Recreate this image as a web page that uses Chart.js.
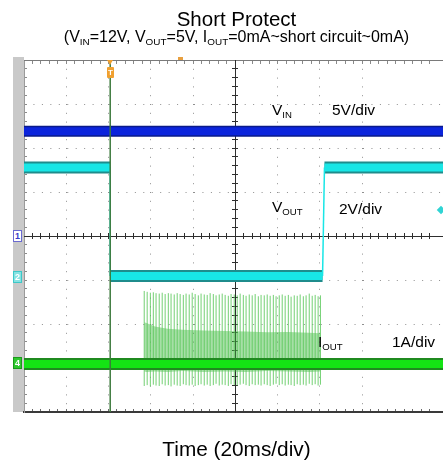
<!DOCTYPE html>
<html>
<head>
<meta charset="utf-8">
<title>Short Protect</title>
<script src="https://cdn.jsdelivr.net/npm/chart.js@4.4.1/dist/chart.umd.min.js"></script>
<style>
  body { margin: 0; background: #fff; }
  #wrap { position: relative; width: 443px; height: 464px; overflow: hidden;
          font-family: "Liberation Sans", Arial, sans-serif; color: #000; }
  #chartBox { position: absolute; left: 0; top: 0; width: 443px; height: 464px; }
  #strip { position: absolute; left: 13px; top: 57px; width: 11px; height: 355px; background: #c9c9c9; }
  .txt { position: absolute; line-height: 1; white-space: nowrap; }
  .center { left: 0; width: 473px; text-align: center; }
  .lbl { font-size: 15.5px; }
  sub { font-size: 0.62em; vertical-align: -0.3em; line-height: 0; }
  .chmark { position: absolute; left: 13px; width: 7px; height: 10px; font: bold 9px/10px "Liberation Sans", Arial, sans-serif;
            text-align: center; border: 1px solid; }
  #trigTip { position: absolute; left: 107px; top: 60px; width: 0; height: 0;
             border-left: 3.5px solid transparent; border-right: 3.5px solid transparent; border-top: 5px solid #f0a030; }
  #trigBox { position: absolute; left: 107px; top: 67px; width: 7px; height: 11px; background: #f0a030; border-radius: 1px;
             color: #fff; font: bold 8px/11px "Liberation Sans", Arial, sans-serif; text-align: center; }
  #memMark { position: absolute; left: 178px; top: 57px; width: 5px; height: 3px; background: #e8a040; }
  #lvlMark { position: absolute; left: 438px; top: 207px; width: 6px; height: 6px; background: #30d4d4; transform: rotate(45deg); }
</style>
</head>
<body>
<div id="wrap">
  <div id="strip"></div>
  <div id="chartBox"><canvas id="scopeChart"></canvas></div>

  <div class="txt center" style="top:9.3px;font-size:20.5px;">Short Protect</div>
  <div class="txt center" style="top:28.6px;font-size:16px;">(V<sub>IN</sub>=12V, V<sub>OUT</sub>=5V, I<sub>OUT</sub>=0mA~short circuit~0mA)</div>
  <div class="txt center" style="top:439px;font-size:20.8px;">Time (20ms/div)</div>

  <div class="txt lbl" style="left:272px;top:101.9px;">V<sub>IN</sub></div>
  <div class="txt lbl" style="left:332px;top:101.9px;">5V/div</div>
  <div class="txt lbl" style="left:272px;top:198.9px;">V<sub>OUT</sub></div>
  <div class="txt lbl" style="left:339px;top:200.9px;">2V/div</div>
  <div class="txt lbl" style="left:318px;top:334.4px;">I<sub>OUT</sub></div>
  <div class="txt lbl" style="left:392px;top:333.9px;">1A/div</div>

  <div class="chmark" style="top:230px;background:#fff;color:#3a3ac8;border-color:#6a6ad0;">1</div>
  <div class="chmark" style="top:271px;background:#86e2e2;color:#fff;border-color:#3cc8c8;">2</div>
  <div class="chmark" style="top:357px;background:#2ec82e;color:#fff;border-color:#1a9a1a;">4</div>
  <div id="trigTip"></div>
  <div id="trigBox">T</div>
  <div id="memMark"></div>
  <div id="lvlMark"></div>
</div>

<script>
// time in ms, 20 ms per division, 0 = left edge of the screen
const timeMax = 198.3;
const triggerTime = 40.8;

// CH1 VIN (5 V/div)
const vinTime = [0, 198.3];
const vinVolt = [11.9, 11.9];

// CH2 VOUT (2 V/div) - drops at the short, recovers at ~141 ms
const voutTime = [0, 40.8, 40.8, 141.3, 142.2, 198.3];
const voutVolt = [5.0, 5.0, 0.07, 0.07, 5.0, 5.0];

// CH4 IOUT (1 A/div) baseline
const ioutTime = [0, 198.3];
const ioutAmp = [0, 0];

// hiccup current pulses while the output is shorted
const pulseTime = [56.9, 58.3, 59.8, 61.2, 62.5, 64.0, 65.4, 66.8, 68.3, 69.6,
                   71.1, 72.5, 73.9, 75.4, 76.7, 78.2, 79.6, 81.0, 82.5, 83.8,
                   85.3, 86.7, 88.1, 89.6, 90.9, 92.4, 93.8, 95.2, 96.7, 98.0,
                   99.5, 100.9, 102.3, 103.8, 105.1, 106.6, 108.0, 109.4, 110.9, 112.2,
                   113.7, 115.1, 116.5, 118.0, 119.3, 120.8, 122.2, 123.6, 125.1, 126.4,
                   127.9, 129.3, 130.7, 132.2, 133.5, 135.0, 136.4, 137.8, 139.2, 140.3];
const pulseHigh = [1.66, 1.64, 1.62, 1.63, 1.61, 1.60, 1.62, 1.59, 1.61, 1.60,
                   1.58, 1.61, 1.59, 1.57, 1.60, 1.58, 1.62, 1.59, 1.56, 1.60,
                   1.58, 1.57, 1.61, 1.59, 1.56, 1.58, 1.60, 1.57, 1.55, 1.59,
                   1.58, 1.56, 1.60, 1.57, 1.55, 1.58, 1.56, 1.59, 1.54, 1.57,
                   1.56, 1.58, 1.55, 1.57, 1.54, 1.56, 1.58, 1.55, 1.57, 1.53,
                   1.56, 1.55, 1.58, 1.54, 1.56, 1.60, 1.55, 1.57, 1.54, 1.56];
const pulseLow = [-0.50, -0.48, -0.51, -0.47, -0.49, -0.50, -0.46, -0.49, -0.48, -0.51,
                  -0.47, -0.49, -0.50, -0.46, -0.48, -0.49, -0.47, -0.50, -0.48, -0.46,
                  -0.49, -0.47, -0.50, -0.48, -0.45, -0.49, -0.47, -0.48, -0.50, -0.46,
                  -0.48, -0.49, -0.47, -0.45, -0.48, -0.50, -0.46, -0.48, -0.47, -0.49,
                  -0.46, -0.48, -0.50, -0.47, -0.45, -0.48, -0.46, -0.49, -0.47, -0.48,
                  -0.50, -0.46, -0.48, -0.47, -0.49, -0.45, -0.48, -0.46, -0.49, -0.47];

// dense part of the pulse train
const envTime = [56.9, 58.0, 62.0, 68.0, 75.0, 85.0, 95.0, 105.0, 115.0, 125.0, 135.0, 140.3];
const envHigh = [0.95, 0.93, 0.85, 0.80, 0.78, 0.76, 0.75, 0.74, 0.72, 0.73, 0.71, 0.70];
const envLow = [-0.17, -0.18, -0.17, -0.18, -0.16, -0.18, -0.17, -0.18, -0.16, -0.17, -0.18, -0.17];

// screen: 8 vertical divisions, channel ground markers in divisions
const ch2Ground = -0.943;
const ch4Ground = -2.909;

const pts = (xs, ys) => xs.map((x, i) => ({x: x, y: ys[i]}));

const pulsePts = [];
pulseTime.forEach((t, i) => {
    pulsePts.push({x: t, y: pulseLow[i]}, {x: t, y: pulseHigh[i]}, {x: t, y: null});
});

const isStep = c => Math.abs(c.p1.parsed.y - c.p0.parsed.y) > 1;

const gridDot = '#8f8f8f';
const axisDark = '#2e2e2e';
const pxX = 3 / 42.26 * 20;   // 3 px in ms
const pxY = 3 / 44;           // 3 px in divisions

// tick-mark only axes for the scope graticule
function markAxis(axis, pos, len, color, border) {
    const isX = axis === 'x';
    return {
        type: 'linear', axis: axis, position: pos,
        min: isX ? 0 : -4, max: isX ? timeMax : 4,
        ticks: {display: false, stepSize: isX ? 4 : 0.2},
        grid: {drawOnChartArea: false, drawTicks: len > 0, tickLength: len, tickColor: color, color: color},
        border: border ? {display: true, color: border.color, width: border.width} : {display: false}
    };
}

new Chart(document.getElementById('scopeChart'), {
    type: 'line',
    data: {
        datasets: [
            {label: 'trigger', data: [{x: triggerTime, y: -4}, {x: triggerTime, y: 4}], yAxisID: 'y',
             borderColor: '#3d7a3d', borderWidth: 1.5},
            {label: 'IOUT', data: pts(ioutTime, ioutAmp), yAxisID: 'y4', borderColor: '#14e414', borderWidth: 8},
            {label: 'IOUT edge', data: pts(ioutTime, ioutAmp), yAxisID: 'y4', borderColor: '#1f8a1f', borderWidth: 12},
            {label: 'VIN', data: pts(vinTime, vinVolt), yAxisID: 'y1', borderColor: '#0b24dc', borderWidth: 8},
            {label: 'VIN edge', data: pts(vinTime, vinVolt), yAxisID: 'y1', borderColor: '#0a1a8a', borderWidth: 11},
            {label: 'VOUT', data: pts(voutTime, voutVolt), yAxisID: 'y2', borderColor: '#18e6e6', borderWidth: 8,
             segment: {borderWidth: c => isStep(c) ? 1.5 : undefined}},
            {label: 'VOUT edge', data: pts(voutTime, voutVolt), yAxisID: 'y2', borderColor: '#1f8c8c', borderWidth: 12,
             segment: {borderColor: c => isStep(c) ? 'rgba(0,0,0,0)' : undefined}},
            {label: 'IOUT pulses', data: pulsePts, yAxisID: 'y4', borderColor: 'rgba(90,200,90,0.85)', borderWidth: 1, spanGaps: false},
            {label: 'env high', data: pts(envTime, envHigh), yAxisID: 'y4', borderColor: 'rgba(0,0,0,0)', borderWidth: 1,
             backgroundColor: 'rgba(60,185,60,0.45)', fill: '+1'},
            {label: 'env low', data: pts(envTime, envLow), yAxisID: 'y4', borderColor: 'rgba(0,0,0,0)', borderWidth: 1}
        ]
    },
    options: {
        responsive: true,
        maintainAspectRatio: false,
        animation: false,
        events: [],
        layout: {padding: {left: 24, top: 60, right: 0, bottom: 52}},
        elements: {point: {radius: 0}, line: {tension: 0, fill: false}},
        plugins: {legend: {display: false}, tooltip: {enabled: false}, title: {display: false}},
        scales: {
            x: {
                type: 'linear', position: 'bottom', min: 0, max: timeMax,
                ticks: {display: false, stepSize: 20},
                grid: {drawTicks: false,
                       color: c => (c.tick && c.tick.value % 20 === 0 && c.tick.value !== 0 && c.tick.value !== 100) ? gridDot : 'rgba(0,0,0,0)'},
                border: {color: '#3a3a3a', width: 2, dash: [1, 7.8]}
            },
            y: {
                type: 'linear', position: 'left', min: -4, max: 4,
                ticks: {display: false, stepSize: 1},
                grid: {drawTicks: false,
                       color: c => (c.tick && Math.abs(c.tick.value) < 3.5 && c.tick.value !== 0) ? gridDot : 'rgba(0,0,0,0)'},
                border: {color: '#9a9a9a', width: 1, dash: [1, 7.45]}
            },
            xTop: markAxis('x', {y: 4}, 3, '#8a8a8a', {color: '#7a7a7a', width: 1}),
            xBot: markAxis('x', {y: -4 + pxY}, 3, '#6a6a6a'),
            xMid: markAxis('x', {y: 0}, 0, axisDark, {color: axisDark, width: 1}),
            xMidTicks: markAxis('x', {y: pxY}, 6, axisDark),
            yLeft: markAxis('y', {x: pxX}, 3, '#8a8a8a'),
            yMid: markAxis('y', {x: 100}, 0, axisDark, {color: axisDark, width: 1}),
            yMidTicks: markAxis('y', {x: 100 + pxX}, 6, axisDark),
            y1: {type: 'linear', display: false, min: -20, max: 20},
            y2: {type: 'linear', display: false, min: (-4 - ch2Ground) * 2, max: (4 - ch2Ground) * 2},
            y4: {type: 'linear', display: false, min: -4 - ch4Ground, max: 4 - ch4Ground}
        }
    }
});
</script>
</body>
</html>
